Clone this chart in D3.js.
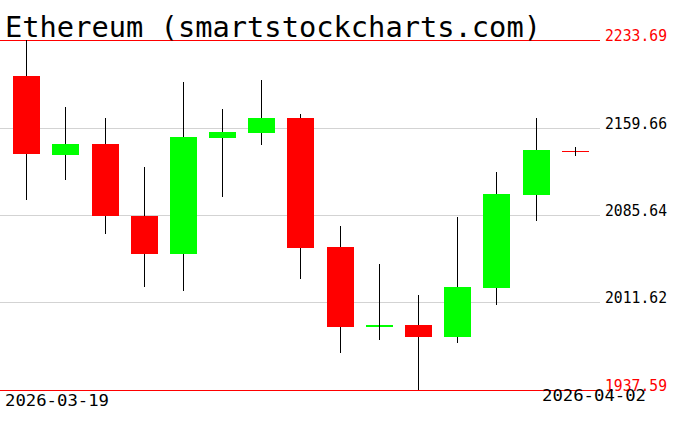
<!doctype html>
<html lang="en">
<head>
<meta charset="utf-8">
<title>Ethereum (smartstockcharts.com)</title>
<style>
  body { margin: 0; background: #fff; }
  svg { display: block; }
</style>
</head>
<body>
<div id="chart"></div>
<script src="https://cdn.jsdelivr.net/npm/d3@7"></script>
<script>

// daily ETH candles
const dates = ['2026-03-19','2026-03-20','2026-03-21','2026-03-22','2026-03-23',
               '2026-03-24','2026-03-25','2026-03-26','2026-03-27','2026-03-28',
               '2026-03-29','2026-03-30','2026-03-31','2026-04-01','2026-04-02'];
const open  = [2203.2, 2136.6, 2145.7, 2084.8, 2052.9, 2151.0, 2155.3, 2167.7, 2058.6, 1991.0, 1992.6, 1982.7, 2024.1, 2102.8, 2139.5];
const high  = [2233.69, 2177.0, 2167.7, 2126.5, 2198.2, 2175.3, 2199.9, 2171.1, 2076.3, 2044.2, 2018.0, 2084.0, 2122.3, 2167.7, 2143.4];
const low   = [2098.3, 2115.5, 2069.8, 2025.0, 2021.6, 2101.1, 2145.1, 2031.8, 1969.2, 1980.2, 1937.59, 1977.6, 2009.8, 2080.3, 2135.8];
const close = [2137.3, 2145.7, 2084.8, 2052.9, 2151.6, 2155.9, 2167.7, 2058.0, 1991.2, 1992.6, 1982.7, 2024.7, 2103.7, 2140.6, 2139.5];

// price levels shown on the right (first and last are the high / low of the range)
const levels = [2233.69, 2159.66, 2085.64, 2011.62, 1937.59];
const levelLabels = ['2233.69', '2159.66', '2085.64', '2011.62', '1937.59'];

const width = 676, height = 431;
const RED = '#ff0000', GREEN = '#00ff00';

const svg = d3.select('#chart').append('svg')
    .attr('width', width)
    .attr('height', height);

const x = d3.scaleBand()
    .domain(dates)
    .range([6.7, 594.3]);

const y = d3.scaleLinear()
    .domain([levels[levels.length - 1], levels[0]])
    .range([390, 40]);

const crisp = v => Math.round(v) + 0.5;
const bodyW = Math.round(x.bandwidth() * 0.69);

// horizontal levels
svg.append('g').selectAll('line')
    .data(levels)
    .join('line')
    .attr('x1', 0)
    .attr('x2', 600)
    .attr('y1', d => crisp(y(d)))
    .attr('y2', d => crisp(y(d)))
    .attr('stroke', (d, i) => (i === 0 || i === levels.length - 1) ? RED : '#d3d3d3')
    .attr('stroke-width', 1);

svg.append('g').selectAll('text')
    .data(levels)
    .join('text')
    .attr('x', 605)
    .attr('y', d => Math.round(y(d)) + 1)
    .attr('fill', (d, i) => (i === 0 || i === levels.length - 1) ? RED : '#000')
    .style('font-family', 'DejaVu Sans Mono, monospace')
    .style('font-size', '15px')
    .attr('textLength', 62)
    .attr('lengthAdjust', 'spacingAndGlyphs')
    .text((d, i) => levelLabels[i]);

// candles
const candles = dates.map((d, i) => ({date: d, o: open[i], h: high[i], l: low[i], c: close[i]}));

const g = svg.append('g');

candles.forEach(d => {
    const cx = Math.round(x(d.date) + x.bandwidth() / 2);
    const top = Math.round(y(Math.max(d.o, d.c)));
    const bot = Math.round(y(Math.min(d.o, d.c)));
    const h = Math.max(1, bot - top);
    const col = d.c > d.o ? GREEN : RED;

    g.append('rect')
        .attr('x', cx - Math.floor(bodyW / 2))
        .attr('y', top)
        .attr('width', bodyW)
        .attr('height', h)
        .attr('fill', col);

    if (h <= 2) {
        g.append('line')
            .attr('x1', cx + 0.5).attr('x2', cx + 0.5)
            .attr('y1', Math.round(y(d.h))).attr('y2', Math.round(y(d.l)))
            .attr('stroke', '#000');
    } else {
        g.append('line')
            .attr('x1', cx + 0.5).attr('x2', cx + 0.5)
            .attr('y1', Math.round(y(d.h))).attr('y2', top)
            .attr('stroke', '#000');
        g.append('line')
            .attr('x1', cx + 0.5).attr('x2', cx + 0.5)
            .attr('y1', top + h).attr('y2', Math.round(y(d.l)))
            .attr('stroke', '#000');
    }
});

// title
svg.append('text')
    .attr('x', 5)
    .attr('y', 37)
    .style('font-family', 'DejaVu Sans Mono, monospace')
    .style('font-size', '29px')
    .attr('textLength', 536)
    .attr('lengthAdjust', 'spacingAndGlyphs')
    .attr('fill', '#000')
    .text('Ethereum (smartstockcharts.com)');

// first / last date
svg.append('text')
    .attr('x', 5)
    .attr('y', 406)
    .style('font-family', 'DejaVu Sans Mono, monospace')
    .style('font-size', '15px')
    .attr('textLength', 104)
    .attr('lengthAdjust', 'spacingAndGlyphs')
    .text(dates[0]);

svg.append('text')
    .attr('x', 542)
    .attr('y', 401)
    .style('font-family', 'DejaVu Sans Mono, monospace')
    .style('font-size', '15px')
    .attr('textLength', 104)
    .attr('lengthAdjust', 'spacingAndGlyphs')
    .text(dates[dates.length - 1]);

</script>
</body>
</html>
